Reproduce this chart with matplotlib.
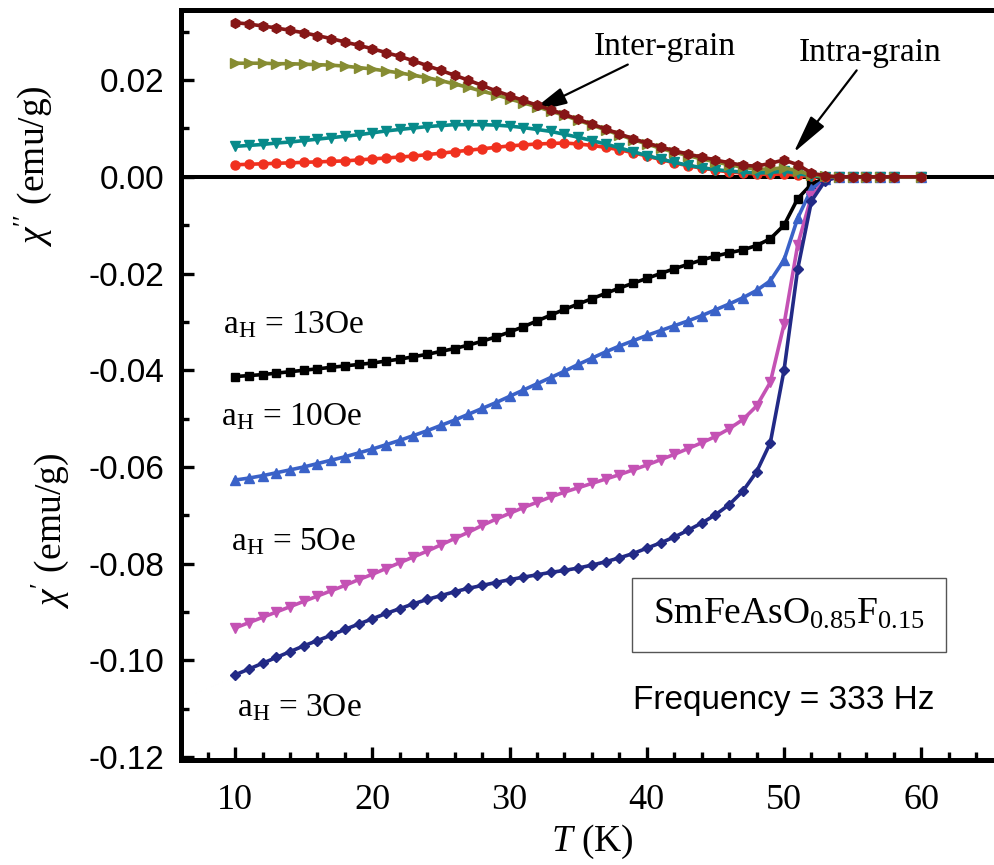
import matplotlib
matplotlib.use("Agg")
import matplotlib.pyplot as plt
from matplotlib.ticker import MultipleLocator, FixedLocator
from matplotlib.patches import Rectangle

plt.rcParams['font.family'] = ['Liberation Serif', 'DejaVu Serif']
plt.rcParams['mathtext.fontset'] = 'custom'
plt.rcParams['mathtext.rm'] = 'Liberation Serif'
plt.rcParams['mathtext.it'] = 'Liberation Serif:italic'
plt.rcParams['mathtext.bf'] = 'Liberation Serif:bold'

# Temperature grid (K)
T = [10, 11, 12, 13, 14, 15, 16, 17, 18, 19, 20, 21, 22, 23, 24, 25, 26, 27, 28, 29,
     30, 31, 32, 33, 34, 35, 36, 37, 38, 39, 40, 41, 42, 43, 44, 45, 46, 47, 48, 49,
     50, 51, 52, 53, 54, 55, 56, 57, 58, 60]

# chi' (real part), emu/g
chi1_13Oe = [-0.0413, -0.0411, -0.0409, -0.0406, -0.0403, -0.0400, -0.0397, -0.0394, -0.0391, -0.0388,
             -0.0385, -0.0381, -0.0377, -0.0372, -0.0367, -0.0361, -0.0355, -0.0348, -0.0340, -0.0331,
             -0.0321, -0.0310, -0.0298, -0.0286, -0.0274, -0.0263, -0.0252, -0.0241, -0.0230, -0.0220,
             -0.0210, -0.0200, -0.0190, -0.0181, -0.0172, -0.0164, -0.0157, -0.0151, -0.0142, -0.0128,
             -0.0100, -0.0045, -0.0015, -0.0003, 0.0, 0.0, 0.0, 0.0, 0.0, 0.0]
chi1_10Oe = [-0.0627, -0.0623, -0.0618, -0.0612, -0.0606, -0.0600, -0.0593, -0.0586, -0.0579, -0.0571,
             -0.0563, -0.0554, -0.0545, -0.0535, -0.0525, -0.0514, -0.0503, -0.0491, -0.0479, -0.0467,
             -0.0454, -0.0441, -0.0428, -0.0415, -0.0402, -0.0388, -0.0375, -0.0362, -0.0350, -0.0339,
             -0.0328, -0.0318, -0.0308, -0.0298, -0.0287, -0.0275, -0.0263, -0.0250, -0.0235, -0.0215,
             -0.0172, -0.0085, -0.0025, -0.0005, 0.0, 0.0, 0.0, 0.0, 0.0, 0.0]
chi1_5Oe = [-0.0933, -0.0922, -0.0911, -0.0900, -0.0889, -0.0878, -0.0867, -0.0856, -0.0845, -0.0833,
            -0.0822, -0.0810, -0.0798, -0.0786, -0.0774, -0.0761, -0.0748, -0.0735, -0.0721, -0.0708,
            -0.0696, -0.0684, -0.0673, -0.0662, -0.0652, -0.0643, -0.0634, -0.0625, -0.0616, -0.0606,
            -0.0596, -0.0585, -0.0574, -0.0562, -0.0550, -0.0537, -0.0521, -0.0502, -0.0474, -0.0425,
            -0.0305, -0.0140, -0.0040, -0.0007, 0.0, 0.0, 0.0, 0.0, 0.0, 0.0]
chi1_3Oe = [-0.1030, -0.1018, -0.1006, -0.0994, -0.0982, -0.0970, -0.0959, -0.0948, -0.0936, -0.0925,
            -0.0914, -0.0903, -0.0893, -0.0883, -0.0874, -0.0866, -0.0858, -0.0851, -0.0845, -0.0839,
            -0.0833, -0.0828, -0.0823, -0.0818, -0.0814, -0.0809, -0.0803, -0.0796, -0.0788, -0.0779,
            -0.0768, -0.0757, -0.0745, -0.0731, -0.0716, -0.0699, -0.0678, -0.0650, -0.0610, -0.0550,
            -0.0400, -0.0190, -0.0050, -0.0008, 0.0, 0.0, 0.0, 0.0, 0.0, 0.0]

# chi'' (imaginary part), emu/g
chi2_darkred = [0.0319, 0.0316, 0.0312, 0.0308, 0.0303, 0.0298, 0.0292, 0.0286, 0.0279, 0.0272,
                0.0265, 0.0257, 0.0249, 0.0240, 0.0230, 0.0220, 0.0210, 0.0200, 0.0189, 0.0178,
                0.0168, 0.0158, 0.0148, 0.0139, 0.0129, 0.0119, 0.0109, 0.0099, 0.0089, 0.0079,
                0.0070, 0.0062, 0.0054, 0.0047, 0.0041, 0.0035, 0.0029, 0.0024, 0.0022, 0.0028,
                0.0035, 0.0025, 0.0008, 0.0002, 0.0, 0.0, 0.0, 0.0, 0.0, 0.0]
chi2_olive = [0.0235, 0.0235, 0.0235, 0.0234, 0.0234, 0.0233, 0.0232, 0.0231, 0.0229, 0.0226,
              0.0223, 0.0219, 0.0215, 0.0210, 0.0205, 0.0199, 0.0192, 0.0185, 0.0177, 0.0170,
              0.0161, 0.0153, 0.0145, 0.0136, 0.0127, 0.0117, 0.0107, 0.0097, 0.0087, 0.0077,
              0.0068, 0.0059, 0.0051, 0.0044, 0.0037, 0.0031, 0.0025, 0.0020, 0.0016, 0.0016,
              0.0019, 0.0012, 0.0004, 0.0001, 0.0, 0.0, 0.0, 0.0, 0.0, 0.0]
chi2_teal = [0.0063, 0.0065, 0.0067, 0.0070, 0.0072, 0.0075, 0.0078, 0.0081, 0.0084, 0.0087,
             0.0091, 0.0095, 0.0098, 0.0101, 0.0104, 0.0106, 0.0108, 0.0108, 0.0108, 0.0107,
             0.0105, 0.0102, 0.0098, 0.0094, 0.0088, 0.0082, 0.0075, 0.0068, 0.0060, 0.0052,
             0.0044, 0.0037, 0.0030, 0.0024, 0.0019, 0.0015, 0.0012, 0.0010, 0.0008, 0.0009,
             0.0012, 0.0007, 0.0002, 0.0, 0.0, 0.0, 0.0, 0.0, 0.0, 0.0]
chi2_red = [0.0025, 0.0026, 0.0027, 0.0028, 0.0029, 0.0030, 0.0031, 0.0032, 0.0033, 0.0035,
            0.0037, 0.0039, 0.0041, 0.0043, 0.0046, 0.0049, 0.0052, 0.0055, 0.0058, 0.0061,
            0.0064, 0.0066, 0.0068, 0.0069, 0.0070, 0.0068, 0.0065, 0.0061, 0.0056, 0.0050,
            0.0043, 0.0036, 0.0029, 0.0023, 0.0018, 0.0014, 0.0010, 0.0008, 0.0006, 0.0005,
            0.0006, 0.0003, 0.0001, 0.0, 0.0, 0.0, 0.0, 0.0, 0.0, 0.0]

x_ticks = [10, 20, 30, 40, 50, 60]
y_ticks = [-0.12, -0.10, -0.08, -0.06, -0.04, -0.02, 0.00, 0.02]
y_ticklabels = ['-0.12', '-0.10', '-0.08', '-0.06', '-0.04', '-0.02', '0.00', '0.02']

fig = plt.figure(figsize=(9.94, 8.65), dpi=100)
ax = fig.add_axes([0.1821, 0.1214, 1.0 - 0.1821, 0.9884 - 0.1214])

lw = 2.6
ms = 6.5
ax.plot(T, chi1_13Oe, color='#000000', marker='s', ms=5.2, lw=lw, zorder=3)
ax.plot(T, chi1_10Oe, color='#3a62c8', marker='^', ms=ms, lw=lw, zorder=3)
ax.plot(T, chi1_5Oe, color='#c452b4', marker='v', ms=ms, lw=lw, zorder=3)
ax.plot(T, chi1_3Oe, color='#222a86', marker='D', ms=5.2, lw=lw, zorder=3)

ax.axhline(0, color='black', lw=2.9, zorder=2)

ax.plot(T, chi2_red, color='#f0301e', marker='o', ms=ms, lw=lw, zorder=4)
ax.plot(T, chi2_teal, color='#078a8a', marker='v', ms=ms, lw=lw, zorder=4)
ax.plot(T, chi2_olive, color='#868c32', marker='>', ms=ms, lw=lw, zorder=4)
ax.plot(T, chi2_darkred, color='#861616', marker='h', ms=7, lw=lw, zorder=5)

ax.set_xlim(6.06, 65.3)
ax.set_ylim(-0.1206, 0.0345)

ax.xaxis.set_major_locator(FixedLocator(x_ticks))
ax.xaxis.set_minor_locator(MultipleLocator(2))
ax.yaxis.set_major_locator(FixedLocator(y_ticks))
ax.set_yticklabels(y_ticklabels, family=['Liberation Sans', 'DejaVu Sans'], fontsize=24)
ax.yaxis.set_minor_locator(MultipleLocator(0.01))

ax.tick_params(which='both', direction='in', top=False, right=False, width=2.4)
ax.tick_params(axis='x', labelsize=26, pad=17)
ax.tick_params(axis='y', pad=12)
ax.tick_params(which='major', length=9.5)
ax.tick_params(which='minor', length=5.5)

for s in ['left', 'bottom', 'top']:
    ax.spines[s].set_linewidth(3.6)
ax.spines['right'].set_visible(False)

# Axis labels
fig.text(0.0332, 1 - 166 / 865, r"$\chi''$ (emu/g)", rotation=90, fontsize=27,
         ha='center', va='center')
fig.text(0.0503, 1 - 531 / 865, r"$\chi'$ (emu/g)", rotation=90, fontsize=27,
         ha='center', va='center')
fig.text(592 / 994, 1 - 842 / 865, r"$T$ (K)", fontsize=27, ha='center', va='center')

# Field labels
fs = 24
fig.text(294 / 994, 1 - 325 / 865, r"a$_\mathrm{H}$ = 13Oe", fontsize=fs, ha='center', va='center')
fig.text(292 / 994, 1 - 417 / 865, r"a$_\mathrm{H}$ = 10Oe", fontsize=fs, ha='center', va='center')
fig.text(293 / 994, 1 - 542 / 865, r"a$_\mathrm{H}$ = 5Oe", fontsize=fs, ha='center', va='center')
fig.text(299 / 994, 1 - 708 / 865, r"a$_\mathrm{H}$ = 3Oe", fontsize=fs, ha='center', va='center')

# Arrows
ax.annotate("Inter-grain", xy=(31.4, 0.0132), xytext=(41.3, 0.0238),
            fontsize=24, ha='center', va='bottom',
            arrowprops=dict(arrowstyle='-|>,head_length=1.0,head_width=0.22',
                            color='black', lw=1.6, shrinkA=0, shrinkB=0))
ax.annotate("Intra-grain", xy=(50.7, 0.0050), xytext=(56.3, 0.0226),
            fontsize=24, ha='center', va='bottom',
            arrowprops=dict(arrowstyle='-|>,head_length=1.0,head_width=0.22',
                            color='black', lw=1.6, shrinkA=0, shrinkB=0))

# Sample box
x0, y0, x1, y1 = 632, 578, 946, 652
fig.patches.append(Rectangle((x0 / 994, 1 - y1 / 865), (x1 - x0) / 994, (y1 - y0) / 865,
                             transform=fig.transFigure, fill=False, edgecolor='#555555', lw=1.0))
fig.text(789 / 994, 1 - 614 / 865, r"SmFeAsO$_{0.85}$F$_{0.15}$", fontsize=27,
         ha='center', va='center')
fig.text(784 / 994, 1 - 700 / 865, "Frequency = 333 Hz", fontsize=24, ha='center', va='center',
         family=['Liberation Sans', 'DejaVu Sans'])

fig.savefig("out.png", dpi=100, facecolor='white')
